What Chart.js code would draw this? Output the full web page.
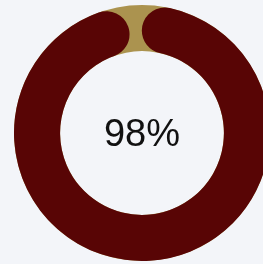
<!DOCTYPE html>
<html>
<head>
<meta charset="utf-8">
<script src="https://cdn.jsdelivr.net/npm/chart.js@4"></script>
<style>
    html, body { margin: 0; padding: 0; overflow: hidden; }
    body { width: 263px; height: 264px; background: #f3f5f9; }
    .wrap { position: absolute; left: 0; top: 0; width: 284px; height: 264px; }
</style>
</head>
<body>
<div class="wrap"><canvas id="ring"></canvas></div>
<script>
    const labels = ['Done', 'Remaining'];
    const values = [98, 2];
    const centerLabel = '98%';

    const darkRed = '#580505';
    const gold = '#ab934f';

    // gold track behind the arc, using the arc's own geometry
    const trackPlugin = {
        id: 'track',
        beforeDatasetsDraw(chart) {
            const arc = chart.getDatasetMeta(0).data[0];
            if (!arc) return;
            const ctx = chart.ctx;
            ctx.save();
            ctx.beginPath();
            ctx.arc(arc.x, arc.y, arc.outerRadius, 0, Math.PI * 2);
            ctx.arc(arc.x, arc.y, arc.innerRadius, 0, Math.PI * 2, true);
            ctx.fillStyle = gold;
            ctx.fill();
            ctx.restore();
        },
        afterDraw(chart) {
            const arc = chart.getDatasetMeta(0).data[0];
            if (!arc) return;
            const ctx = chart.ctx;
            ctx.save();
            ctx.font = '38px "Liberation Sans", Arial, sans-serif';
            ctx.fillStyle = '#111';
            ctx.textAlign = 'center';
            ctx.textBaseline = 'middle';
            ctx.fillText(centerLabel, arc.x, arc.y + 3);
            ctx.restore();
        }
    };

    new Chart(document.getElementById('ring'), {
        type: 'doughnut',
        data: {
            labels: labels,
            datasets: [{
                data: values,
                backgroundColor: [darkRed, 'rgba(0,0,0,0)'],
                borderWidth: 0,
                borderRadius: 30
            }]
        },
        options: {
            responsive: true,
            maintainAspectRatio: false,
            animation: false,
            cutout: '64%',
            layout: { padding: { left: 14, right: 14, top: 5, bottom: 3 } },
            plugins: {
                legend: { display: false },
                tooltip: { enabled: false }
            }
        },
        plugins: [trackPlugin]
    });
</script>
</body>
</html>
